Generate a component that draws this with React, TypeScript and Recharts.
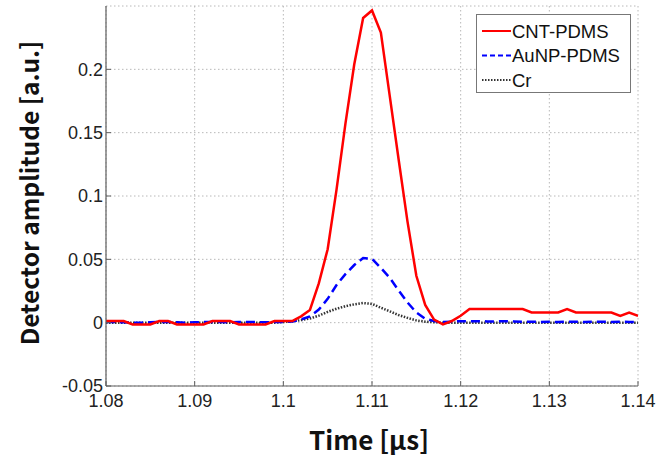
import { LineChart, Line, XAxis, YAxis, CartesianGrid, Legend } from 'recharts';

// sample times [µs]
const times = [
  1.080, 1.081, 1.082, 1.083, 1.084, 1.085, 1.086, 1.087, 1.088, 1.089,
  1.090, 1.091, 1.092, 1.093, 1.094, 1.095, 1.096, 1.097, 1.098, 1.099,
  1.100, 1.101, 1.102, 1.103, 1.104, 1.105, 1.106, 1.107, 1.108, 1.109,
  1.110, 1.111, 1.112, 1.113, 1.114, 1.115, 1.116, 1.117, 1.118, 1.119,
  1.120, 1.121, 1.122, 1.123, 1.124, 1.125, 1.126, 1.127, 1.128, 1.129,
  1.130, 1.131, 1.132, 1.133, 1.134, 1.135, 1.136, 1.137, 1.138, 1.139,
  1.140,
];

const cntPdms = [
  0.0013, 0.0013, 0.0013, -0.0014, -0.0014, -0.0014, 0.0013, 0.0013, -0.0014, -0.0014,
  -0.0014, -0.0014, 0.0013, 0.0013, 0.0013, -0.0014, -0.0014, -0.0014, -0.0014, 0.0013,
  0.0013, 0.0013, 0.005, 0.010, 0.031, 0.058, 0.105, 0.157, 0.204, 0.2405,
  0.2465, 0.229, 0.179, 0.129, 0.080, 0.037, 0.014, 0.0024, -0.0014, 0.0013,
  0.0055, 0.0108, 0.0108, 0.0108, 0.0108, 0.0108, 0.0108, 0.0108, 0.008, 0.008,
  0.008, 0.008, 0.0108, 0.008, 0.008, 0.008, 0.008, 0.008, 0.0053, 0.008,
  0.0053,
];

const aunpPdms = [
  0.0005, 0.0005, 0.0003, 0, 0, 0.0003, 0.0005, 0.0005, 0.0003, 0,
  0.0003, 0.0005, 0.0005, 0.0005, 0.0003, 0.0005, 0.0005, 0.0005, 0.0003, 0.0005,
  0.0005, 0.001, 0.0025, 0.005, 0.0103, 0.0188, 0.0297, 0.0383, 0.0455, 0.051,
  0.0505, 0.0432, 0.0354, 0.0255, 0.016, 0.008, 0.003, 0.0013, 0.0005, 0.0008,
  0.0012, 0.0012, 0.0012, 0.001, 0.001, 0.0012, 0.001, 0.0008, 0.0008, 0.0005,
  0.0008, 0.0005, 0.0008, 0.0008, 0.0005, 0.0008, 0.0008, 0.0005, 0.0008, 0.0005,
  0.0005,
];

const cr = [
  0, 0, 0, 0, 0, 0, 0, 0, 0, 0,
  0, 0, 0, 0, 0, 0, 0, 0, 0, 0,
  0.0005, 0.001, 0.002, 0.0033, 0.0055, 0.0085, 0.011, 0.013, 0.0145, 0.0155,
  0.0148, 0.0118, 0.009, 0.006, 0.0038, 0.0018, 0.0008, 0.0003, 0, 0,
  0, 0, 0, 0, 0, 0, 0, 0, 0, 0,
  0, 0, 0, 0, 0, 0, 0, 0, 0, 0,
  0,
];

const xTicks = [1.08, 1.09, 1.1, 1.11, 1.12, 1.13, 1.14];
const xTickLabels = ['1.08', '1.09', '1.1', '1.11', '1.12', '1.13', '1.14'];
const yTicks = [-0.05, 0, 0.05, 0.1, 0.15, 0.2];
const yTickLabels = ['-0.05', '0', '0.05', '0.1', '0.15', '0.2'];

const seriesNames = ['CNT-PDMS', 'AuNP-PDMS', 'Cr'];

const data = times.map((t, i) => ({
  t,
  cnt: cntPdms[i],
  aunp: aunpPdms[i],
  cr: cr[i],
}));

const BOX = '#5e5e5e';
const TICK_FONT = '"Liberation Sans", Arial, sans-serif';
const LABEL_FONT = '"Noto Sans CJK KR", "Noto Sans", sans-serif';

const labelOf = (ticks: number[], labels: string[], v: number) => {
  const idx = ticks.findIndex((k) => Math.abs(k - v) < 1e-9);
  return idx >= 0 ? labels[idx] : String(v);
};

const BottomTick = (props: any) => {
  const { x, y, payload } = props;
  return (
    <g>
      <line x1={x} y1={y} x2={x} y2={y - 5} stroke={BOX} strokeWidth={1} />
      <text x={x} y={y + 8} dy="0.71em" textAnchor="middle" fontSize={18} fill="#222" fontFamily={TICK_FONT}>
        {labelOf(xTicks, xTickLabels, payload.value)}
      </text>
    </g>
  );
};

const TopTick = (props: any) => {
  const { x, y } = props;
  return <line x1={x} y1={y} x2={x} y2={y + 5} stroke={BOX} strokeWidth={1} />;
};

const LeftTick = (props: any) => {
  const { x, y, payload } = props;
  return (
    <g>
      <line x1={x} y1={y} x2={x + 5} y2={y} stroke={BOX} strokeWidth={1} />
      <text x={x - 3} y={y} dy="0.36em" textAnchor="end" fontSize={18} fill="#222" fontFamily={TICK_FONT}>
        {labelOf(yTicks, yTickLabels, payload.value)}
      </text>
    </g>
  );
};

const RightTick = (props: any) => {
  const { x, y } = props;
  return <line x1={x} y1={y} x2={x - 5} y2={y} stroke={BOX} strokeWidth={1} />;
};

const renderYLabel = (props: any) => {
  const { viewBox } = props;
  const cx = viewBox.x + 39;
  const cy = viewBox.y + viewBox.height / 2 - 3;
  return (
    <text
      x={cx}
      y={cy}
      transform={`rotate(-90, ${cx}, ${cy})`}
      textAnchor="middle"
      fontSize={24.5}
      fontWeight={700}
      fill="#111"
      fontFamily={LABEL_FONT}
    >
      Detector amplitude [a.u.]
    </text>
  );
};

const renderXLabel = (props: any) => {
  const { viewBox } = props;
  const cx = viewBox.x + viewBox.width / 2 - 3;
  return (
    <text
      x={cx}
      y={viewBox.y + 64}
      textAnchor="middle"
      fontSize={26}
      fontWeight={700}
      fill="#111"
      fontFamily={LABEL_FONT}
    >
      Time [μs]
    </text>
  );
};

const legendStyles = [
  { stroke: '#ff0000', dash: undefined },
  { stroke: '#0000ff', dash: '5 3' },
  { stroke: '#333333', dash: '1.5 1.5' },
];

const renderLegend = () => (
  <svg width={155} height={79}>
    <rect x={0.5} y={0.5} width={154} height={78} fill="#fff" stroke="#777" strokeWidth={1} />
    {seriesNames.map((name, i) => {
      const cy = 17 + i * 24.5;
      return (
        <g key={name}>
          <line
            x1={6}
            y1={cy}
            x2={35}
            y2={cy}
            stroke={legendStyles[i].stroke}
            strokeWidth={2}
            strokeDasharray={legendStyles[i].dash}
          />
          <text x={36} y={cy} dy="0.36em" fontSize={18.5} fill="#111" fontFamily={TICK_FONT}>
            {name}
          </text>
        </g>
      );
    })}
  </svg>
);

export default function App() {
  return (
    <div style={{ position: 'absolute', left: 0, top: 0, width: 670, height: 458, background: '#fff' }}>
      <LineChart width={670} height={458} data={data} margin={{ top: 6, right: 32, bottom: 0, left: 0 }}>
        <CartesianGrid stroke="#b8b8b8" strokeDasharray="1.5 2.5" strokeWidth={1} />
        <XAxis
          dataKey="t"
          type="number"
          domain={[1.08, 1.14]}
          ticks={xTicks}
          allowDataOverflow
          height={72}
          tickSize={0}
          tickMargin={0}
          tickLine={false}
          axisLine={{ stroke: BOX, strokeWidth: 1.2 }}
          tick={<BottomTick />}
          interval={0}
          label={renderXLabel}
        />
        <XAxis
          xAxisId="top"
          dataKey="t"
          type="number"
          orientation="top"
          domain={[1.08, 1.14]}
          ticks={xTicks}
          height={0}
          tickSize={0}
          tickMargin={0}
          tickLine={false}
          axisLine={{ stroke: BOX, strokeWidth: 1.2 }}
          tick={<TopTick />}
          interval={0}
        />
        <YAxis
          type="number"
          domain={[-0.05, 0.25]}
          ticks={yTicks}
          allowDataOverflow
          width={106}
          tickSize={0}
          tickMargin={0}
          tickLine={false}
          axisLine={{ stroke: BOX, strokeWidth: 1.2 }}
          tick={<LeftTick />}
          interval={0}
          label={renderYLabel}
        />
        <YAxis
          yAxisId="right"
          type="number"
          orientation="right"
          domain={[-0.05, 0.25]}
          ticks={yTicks}
          width={0}
          tickSize={0}
          tickMargin={0}
          tickLine={false}
          axisLine={{ stroke: BOX, strokeWidth: 1.2 }}
          tick={<RightTick />}
          interval={0}
        />
        <Legend
          layout="horizontal"
          verticalAlign="middle"
          align="center"
          content={renderLegend}
          wrapperStyle={{ position: 'absolute', left: 476, top: 14, width: 155, height: 79 }}
        />
        <Line
          type="linear"
          dataKey="cr"
          name={seriesNames[2]}
          stroke="#333333"
          strokeWidth={2.5}
          strokeDasharray="1.5 1.5"
          dot={false}
          isAnimationActive={false}
        />
        <Line
          type="linear"
          dataKey="aunp"
          name={seriesNames[1]}
          stroke="#0000ff"
          strokeWidth={2.5}
          strokeDasharray="9 5"
          dot={false}
          isAnimationActive={false}
        />
        <Line
          type="linear"
          dataKey="cnt"
          name={seriesNames[0]}
          stroke="#ff0000"
          strokeWidth={2.5}
          dot={false}
          isAnimationActive={false}
        />
      </LineChart>
    </div>
  );
}
